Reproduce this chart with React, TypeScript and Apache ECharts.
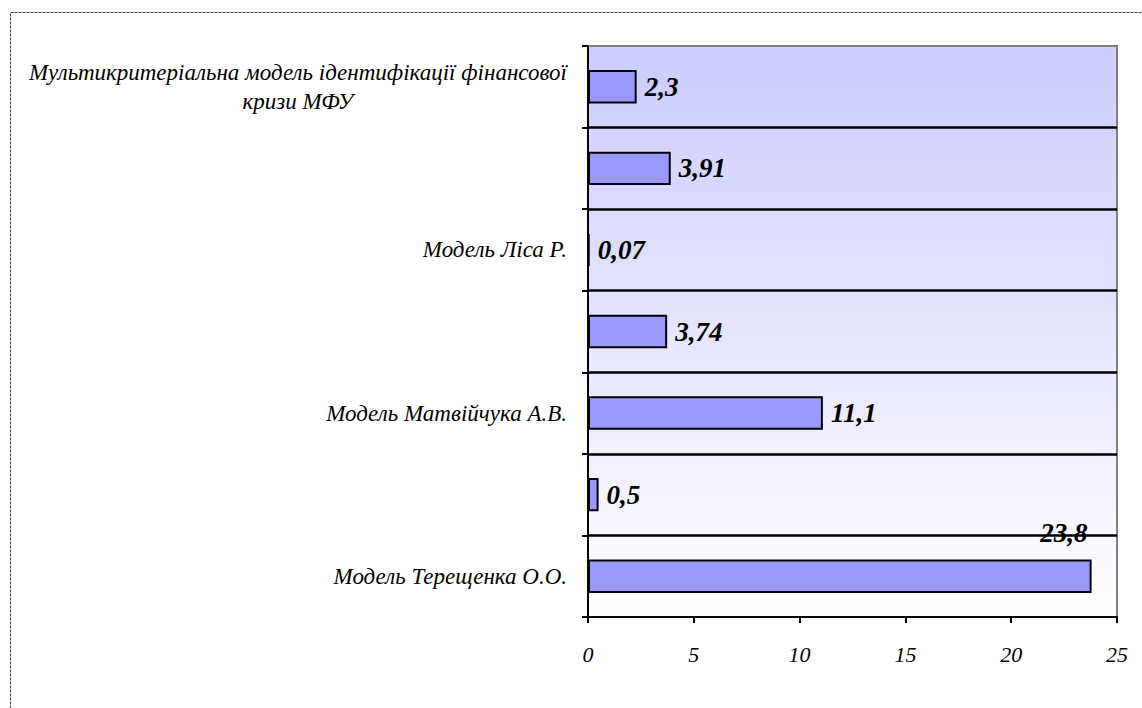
import React, { useEffect, useRef } from "react";
import * as echarts from "echarts";

// Categories listed bottom-to-top (ECharts category y axis runs upward).
const categories: string[] = [
  "Модель Терещенка О.О.",
  "",
  "Модель Матвійчука А.В.",
  "",
  "Модель Ліса Р.",
  "",
  "Мультикритеріальна модель ідентифікації фінансової кризи МФУ",
];
const values: number[] = [23.8, 0.5, 11.1, 3.74, 0.07, 3.91, 2.3];
const xTicks = { min: 0, max: 25, interval: 5 };

const SERIF = "'Liberation Serif', 'Times New Roman', serif";
const WRAP_AT = 52;

function wrapLabel(text: string): string[] {
  if (text.length <= WRAP_AT) return [text];
  const words = text.split(" ");
  const lines: string[] = [];
  let cur = "";
  for (const w of words) {
    const next = cur ? cur + " " + w : w;
    if (next.length > WRAP_AT && cur) {
      lines.push(cur);
      cur = w;
    } else cur = next;
  }
  if (cur) lines.push(cur);
  return lines;
}

const fmt = (v: number) => String(v).replace(".", ",");

export default function App() {
  const ref = useRef<HTMLDivElement>(null);

  useEffect(() => {
    document.body.style.margin = "0";
    if (!ref.current) return;
    const chart = echarts.init(ref.current, null, { renderer: "svg" });

    const data = values.map((v, i) =>
      i === 0
        ? {
            value: v,
            label: {
              position: ["100%", 0],
              align: "right",
              verticalAlign: "middle",
              offset: [-4, -26],
            },
          }
        : v
    );

    chart.setOption({
      animation: false,
      backgroundColor: "#ffffff",
      graphic: [
        {
          type: "rect",
          left: 8,
          top: 10,
          shape: { x: 0, y: 0, width: 1400, height: 900 },
          style: { fill: "none", stroke: "#444", lineWidth: 1, lineDash: [3, 1] },
          silent: true,
          z: -1,
        },
      ],
      grid: {
        left: 588,
        top: 46,
        right: 25,
        bottom: 91,
        show: true,
        borderColor: "#808080",
        borderWidth: 2,
        backgroundColor: new echarts.graphic.LinearGradient(0, 0, 0, 1, [
          { offset: 0, color: "#ccccff" },
          { offset: 1, color: "#ffffff" },
        ]),
      },
      xAxis: {
        type: "value",
        min: xTicks.min,
        max: xTicks.max,
        interval: xTicks.interval,
        axisLine: { show: true, lineStyle: { color: "#000", width: 2 } },
        axisTick: { show: true, length: 6, lineStyle: { color: "#000", width: 2 } },
        axisLabel: {
          margin: 26,
          color: "#000",
          fontFamily: SERIF,
          fontStyle: "italic",
          fontSize: 22,
        },
        splitLine: { show: false },
      },
      yAxis: {
        type: "category",
        data: categories,
        axisLine: { show: true, lineStyle: { color: "#000", width: 2 } },
        axisTick: { show: true, length: 6, lineStyle: { color: "#000", width: 2 } },
        axisLabel: {
          interval: 0,
          margin: 21,
          color: "#000",
          fontFamily: SERIF,
          fontStyle: "italic",
          fontSize: 23,
          formatter: (val: string) => {
            const lines = wrapLabel(val);
            if (lines.length === 1) return val;
            return lines.map((l) => "{c|" + l + "}").join("\n");
          },
          rich: {
            c: {
              align: "center",
              fontFamily: SERIF,
              fontStyle: "italic",
              fontSize: 23,
              color: "#000",
              lineHeight: 29,
            },
          },
        },
        splitLine: {
          show: true,
          showMinLine: false,
          showMaxLine: false,
          lineStyle: { color: "#000", width: 2.5 },
        },
      },
      series: [
        {
          type: "bar",
          data,
          barCategoryGap: "59%",
          itemStyle: { color: "#9999ff", borderColor: "#000", borderWidth: 2 },
          label: {
            show: true,
            position: "right",
            distance: 8,
            color: "#000",
            fontFamily: SERIF,
            fontStyle: "italic",
            fontWeight: "bold",
            fontSize: 27,
            formatter: (p: any) => fmt(p.value),
          },
        },
      ],
    });

    return () => chart.dispose();
  }, []);

  return <div ref={ref} style={{ width: 1142, height: 708 }} />;
}
